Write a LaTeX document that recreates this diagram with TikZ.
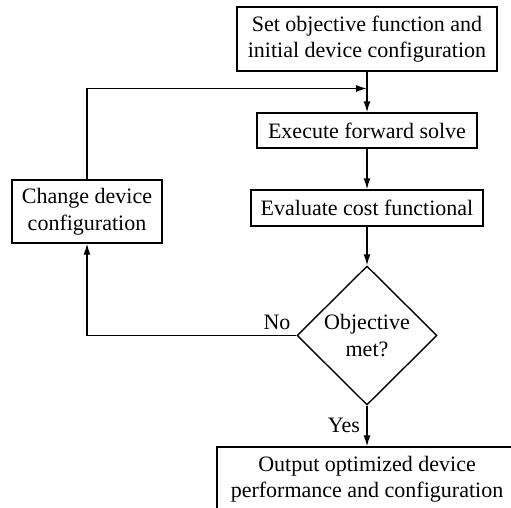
\documentclass[tikz,border=0pt]{standalone}
\usepackage{fontspec}
\setmainfont{Liberation Serif}
\usetikzlibrary{shapes.geometric,arrows.meta}
\begin{document}
\begin{tikzpicture}[x=1pt,y=-1pt,
  every node/.style={font=\fontsize{22}{26.5}\selectfont},
  box/.style={draw,line width=1.4pt,inner sep=0pt,align=center},
  dec/.style={draw,line width=1.4pt,shape=diamond,aspect=1,inner sep=0pt,align=center,minimum width=140pt,minimum height=139pt},
  conn/.style={line width=1.4pt},
  arr/.style={conn,-{Latex[length=11pt,width=7pt]}},
  lbl/.style={inner sep=0pt}]
\useasboundingbox (0,0) rectangle (511,508);
\node[box,minimum width=260pt,minimum height=64pt] (top) at (367,39) {Set objective function and\\initial device configuration};
\node[box,minimum width=220pt,minimum height=35pt] (exec) at (367,130.5) {Execute forward solve};
\node[box,minimum width=232pt,minimum height=36pt] (eval) at (367,208) {Evaluate cost functional};
\node[box,minimum width=150pt,minimum height=63pt] (chg) at (87,211.5) {Change device\\configuration};
\node[dec] (dia) at (367,335.5) {Objective\\met?};
\node[box,minimum width=300pt,minimum height=64pt] (out) at (367,479) {Output optimized device\\performance and configuration};
\coordinate (join) at (367,88.5);
\draw[arr] (top.south) -- (exec.north);
\draw[arr] (chg.north) |- (join);
\draw[arr] (exec.south) -- (eval.north);
\draw[arr] (eval.south) -- (dia.north);
\draw[arr] (dia.west) -| (chg.south);
\draw[arr] (dia.south) -- (out.north);
\node[lbl] (no) at (277,322) {No};
\node[lbl] (yes) at (344,425) {Yes};
\end{tikzpicture}
\end{document}
